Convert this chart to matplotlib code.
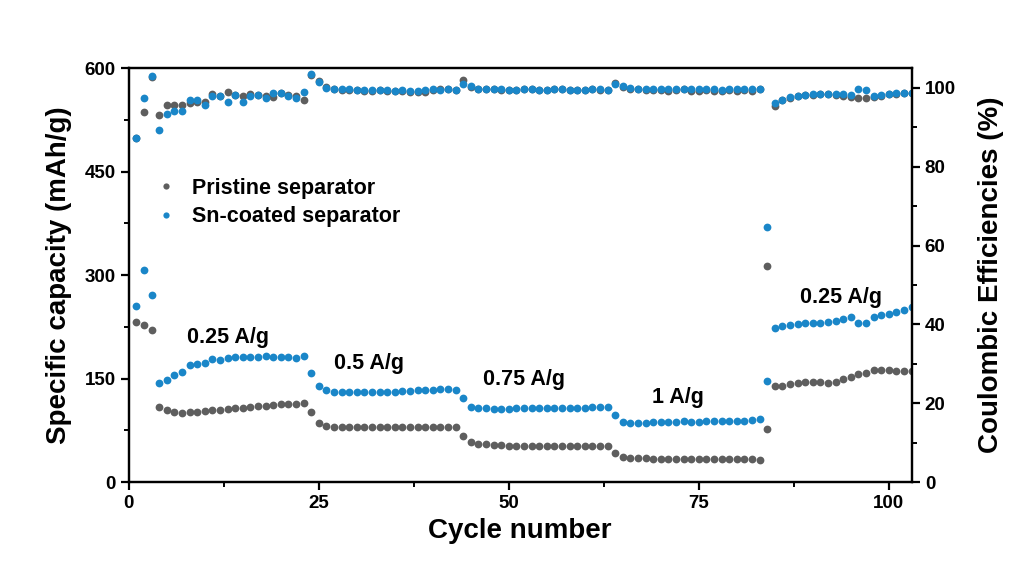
import numpy as np
import matplotlib
matplotlib.use("Agg")
import matplotlib.pyplot as plt
from matplotlib.ticker import MultipleLocator

plt.rcParams['font.family'] = ['Liberation Sans', 'DejaVu Sans']
plt.rcParams['font.weight'] = 'bold'

gray = '#5e5e5e'
blue = '#1a86c8'

cycles = np.arange(1, 104)

# specific capacity (mAh/g) per cycle
cap_pristine = ([232, 228, 220]
                + [109, 104, 102, 100, 101, 102, 103, 104, 105, 106, 107, 108, 109, 110, 111, 112, 113, 113, 114, 115]
                + [101]
                + [86, 81, 80, 80, 80, 80, 80, 80, 80, 80, 80, 80, 80, 80, 80, 80, 80, 80, 80]
                + [67]
                + [58, 56, 55, 54, 54, 53, 53, 53, 53, 53, 53, 52, 52, 52, 52, 52, 52, 52, 52]
                + [43]
                + [36, 35, 35, 35, 34, 34, 34, 34, 34, 34, 34, 34, 33, 33, 33, 33, 33, 33, 32]
                + [77]
                + [140, 140, 142, 144, 145, 145, 145, 144, 145, 149, 153, 157, 158, 162, 162, 162, 161, 161, 161])

cap_sn = ([256, 307, 271]
          + [143, 148, 155, 159, 170, 171, 172, 178, 177, 180, 181, 181, 182, 182, 183, 182, 182, 181, 180, 183]
          + [158]
          + [139, 133, 131, 131, 130, 130, 130, 130, 131, 131, 131, 132, 132, 133, 134, 134, 135, 135, 133]
          + [122]
          + [109, 107, 107, 106, 106, 106, 107, 107, 107, 108, 107, 107, 108, 108, 108, 108, 109, 109, 109]
          + [97]
          + [87, 86, 86, 86, 87, 87, 87, 87, 88, 87, 87, 88, 88, 88, 89, 89, 89, 90, 91]
          + [146]
          + [223, 226, 228, 229, 230, 230, 231, 232, 234, 236, 239, 231, 231, 239, 242, 244, 246, 249, 254])

# coulombic efficiency (%) per cycle
ce_pristine = ([87.3, 93.8, 102.8, 93.0, 95.6, 95.7, 95.6, 96.1, 96.4, 96.5, 98.5, 98.0, 98.9, 98.2, 98.0,
                98.5, 98.2, 97.8, 97.6, 98.6, 98.2, 98.0, 97.0]
               + [103.3, 101.7, 100.2]
               + [99.6, 99.5, 99.4, 99.4, 99.3, 99.3, 99.4, 99.2, 99.1, 99.3, 99.0, 98.9, 99.0, 99.4, 99.6, 99.8, 99.4]
               + [101.9, 100.3]
               + [99.7, 99.6, 99.6, 99.5, 99.5, 99.4, 99.6, 99.7, 99.5, 99.4, 99.6, 99.7, 99.4, 99.5, 99.4, 99.6, 99.5, 99.4]
               + [101.3, 100.3]
               + [99.8, 99.6, 99.5, 99.5, 99.4, 99.3, 99.5, 99.7, 99.2, 99.3, 99.4, 99.2, 99.3, 99.4, 99.2, 99.4, 99.3, 99.6]
               + [54.8]
               + [95.5, 96.8, 97.5, 97.9, 98.1, 98.2, 98.4, 98.4, 98.2, 97.8, 97.6, 97.4, 97.3, 97.6, 98.0, 98.3, 98.5, 98.6, 98.7])

ce_sn = ([87.3, 97.5, 103.1, 89.3, 93.4, 94.2, 94.2, 96.8, 96.8, 95.6, 97.8, 97.8, 96.4, 98.2, 96.5,
          98.0, 98.2, 97.4, 98.6, 98.6, 98.0, 97.5, 98.9]
         + [103.5, 101.5, 99.9]
         + [99.7, 99.6, 99.6, 99.5, 99.5, 99.4, 99.5, 99.4, 99.3, 99.5, 99.3, 99.2, 99.4, 99.6, 99.5, 99.7, 99.5]
         + [101.0, 100.5]
         + [99.8, 99.7, 99.6, 99.6, 99.5, 99.5, 99.6, 99.6, 99.5, 99.5, 99.6, 99.6, 99.5, 99.5, 99.5, 99.6, 99.6, 99.5]
         + [100.9, 100.4]
         + [99.9, 99.8, 99.7, 99.7, 99.6, 99.6, 99.7, 99.8, 99.7, 99.6, 99.8, 99.6, 99.5, 99.7, 99.6, 99.6, 99.7, 99.8]
         + [64.7]
         + [96.1, 96.9, 97.6, 98.0, 98.2, 98.3, 98.4, 98.5, 98.5, 98.4, 98.2, 99.6, 99.4, 97.8, 98.2, 98.5, 98.6, 98.7, 98.8])

# current density labels: (text, cycle, capacity)
rate_labels = ['0.25 A/g', '0.5 A/g', '0.75 A/g', '1 A/g', '0.25 A/g']
rate_x = [13.0, 31.6, 52.0, 72.3, 93.7]
rate_y = [209, 172, 149, 122, 268]

fig = plt.figure(figsize=(10.14, 5.72), dpi=100)
ax = fig.add_axes([0.127, 0.157, 0.772, 0.724])
ax2 = ax.twinx()

ms = 5.6
ax.plot(cycles, cap_pristine, 'o', ms=ms, color=gray, mec='none', label='Pristine separator')
ax.plot(cycles, cap_sn, 'o', ms=ms, color=blue, mec='none', label='Sn-coated separator')
ax2.plot(cycles, ce_pristine, 'o', ms=ms, color=gray, mec='none')
ax2.plot(cycles, ce_sn, 'o', ms=ms, color=blue, mec='none')

for txt, x, y in zip(rate_labels, rate_x, rate_y):
    ax.text(x, y, txt, ha='center', va='center', fontsize=15.5, fontweight='bold')

ax.set_xlim(0, 103)
ax.set_ylim(0, 600)
ax2.set_ylim(0, 105)

ax.xaxis.set_major_locator(MultipleLocator(25))
ax.xaxis.set_minor_locator(MultipleLocator(12.5))
ax.yaxis.set_major_locator(MultipleLocator(150))
ax.yaxis.set_minor_locator(MultipleLocator(75))
ax2.yaxis.set_major_locator(MultipleLocator(20))
ax2.yaxis.set_minor_locator(MultipleLocator(10))

for a in (ax, ax2):
    for s in a.spines.values():
        s.set_linewidth(1.6)
    a.tick_params(which='major', direction='out', length=6, width=1.6, labelsize=13.5)
    a.tick_params(which='minor', direction='out', length=3.5, width=1.4)
ax.tick_params(top=False, which='both')

ax.set_xlabel('Cycle number', fontsize=20, fontweight='bold', labelpad=4)
ax.set_ylabel('Specific capacity (mAh/g)', fontsize=20, fontweight='bold', labelpad=9)
ax2.set_ylabel('Coulombic Efficiencies (%)', fontsize=20, fontweight='bold', labelpad=16)

leg = ax.legend(loc='upper left', bbox_to_anchor=(0.006, 0.782), frameon=False,
                fontsize=15.5, markerscale=0.8, handletextpad=0.6, labelspacing=0.35,
                handlelength=1.2)
for t in leg.get_texts():
    t.set_fontweight('bold')

fig.savefig('out.png', dpi=100)
